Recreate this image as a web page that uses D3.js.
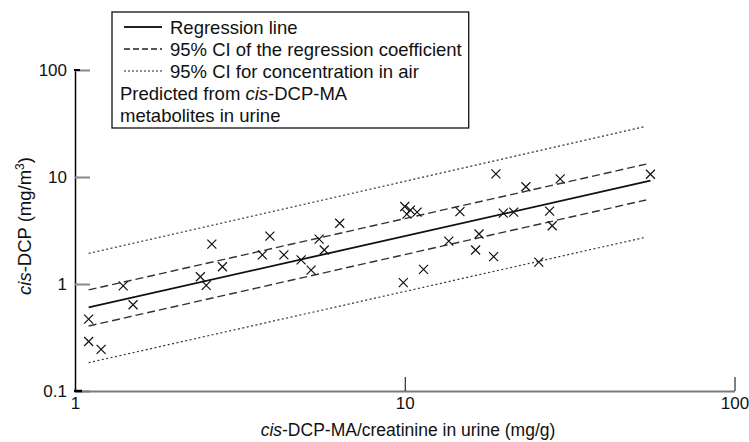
<!DOCTYPE html>
<html>
<head>
<meta charset="utf-8">
<script src="https://cdn.jsdelivr.net/npm/d3@7"></script>
<style>
  body { margin: 0; background: #fff; }
  svg { font-family: "Liberation Sans", Arial, sans-serif; }
</style>
</head>
<body>
<div id="chart"></div>
<script>
// measured points (urine metabolite mg/g vs air mg/m3)
var urine = [1.1, 1.1, 1.2, 1.4, 1.5, 2.4, 2.5, 2.6, 2.8, 3.7, 3.9, 4.3, 4.85, 5.2, 5.5, 5.7, 6.35,
  9.9, 10.0, 10.15, 10.4, 10.9, 11.4, 13.6, 14.7, 16.4, 16.8, 18.6, 18.9, 19.9, 21.4, 23.3,
  25.5, 27.5, 28.0, 29.6, 55.6];
var air = [0.47, 0.29, 0.245, 0.96, 0.64, 1.17, 0.97, 2.36, 1.45, 1.87, 2.8, 1.87, 1.68, 1.35, 2.63, 2.08, 3.7,
  1.03, 5.3, 4.5, 4.9, 4.7, 1.37, 2.52, 4.75, 2.08, 2.93, 1.8, 10.7, 4.6, 4.7, 8.1,
  1.6, 4.8, 3.5, 9.6, 10.6];

// line end points
var regX = [1.1, 55.6], regY = [0.605, 9.23];
var coefX = [1.1, 54], coefUpY = [0.88, 13.2], coefLoY = [0.405, 6.1];
var predX = [1.1, 53], predUpY = [1.93, 29.4], predLoY = [0.184, 2.71];

var yTicks = [0.1, 1, 10, 100];
var xTicks = [1, 10, 100];

var width = 749, height = 442;

var svg = d3.select("#chart").append("svg")
  .attr("width", width)
  .attr("height", height);

var x = d3.scaleLog().domain([1, 100]).range([75, 734.5]);
var y = d3.scaleLog().domain([0.1, 100]).range([391, 70]);

// axes
var yAxis = svg.append("g")
  .attr("transform", "translate(75,0)")
  .call(d3.axisLeft(y).tickValues(yTicks).tickSizeInner(-15).tickSizeOuter(0)
    .tickPadding(8).tickFormat(function (d) { return d; }));
yAxis.select(".domain").attr("stroke", "#000").attr("stroke-width", 1.5);
yAxis.selectAll(".tick line").attr("stroke", "#888").attr("stroke-width", 2);
yAxis.selectAll(".tick text").attr("font-size", 17).attr("fill", "#111")
  .style("font-family", "Liberation Sans, Arial, sans-serif");

var xAxis = svg.append("g")
  .attr("transform", "translate(0,391)")
  .call(d3.axisBottom(x).tickValues(xTicks).tickSizeInner(-14).tickSizeOuter(0)
    .tickPadding(6).tickFormat(function (d) { return d; }));
xAxis.select(".domain").attr("stroke", "#7a7a7a").attr("stroke-width", 2.2);
xAxis.selectAll(".tick line").attr("stroke", "#000").attr("stroke-width", 1);
xAxis.selectAll(".tick text").attr("font-size", 17).attr("fill", "#111")
  .style("font-family", "Liberation Sans, Arial, sans-serif");

// corner bits on the y axis
svg.append("line").attr("x1", 74).attr("x2", 82).attr("y1", y(0.1)).attr("y2", y(0.1))
  .attr("stroke", "#000").attr("stroke-width", 2.5);
svg.append("line").attr("x1", 74).attr("x2", 80).attr("y1", y(100)).attr("y2", y(100))
  .attr("stroke", "#000").attr("stroke-width", 2);

// lines
var line = d3.line()
  .x(function (d) { return x(d[0]); })
  .y(function (d) { return y(d[1]); });

function drawLine(xs, ys, dash, w, col) {
  svg.append("path")
    .datum(d3.zip(xs, ys))
    .attr("d", line)
    .attr("fill", "none")
    .attr("stroke", col)
    .attr("stroke-width", w)
    .attr("stroke-dasharray", dash);
}

drawLine(predX, predUpY, "2,2.5", 1.2, "#333");
drawLine(predX, predLoY, "2,2.5", 1.2, "#333");
drawLine(coefX, coefUpY, "8,4", 1.4, "#333");
drawLine(coefX, coefLoY, "8,4", 1.4, "#333");
drawLine(regX, regY, null, 1.8, "#111");

// points as crosses
var s = 4.5;
svg.selectAll(".pt")
  .data(d3.zip(urine, air))
  .enter()
  .append("path")
  .attr("class", "pt")
  .attr("d", function (d) {
    var cx = x(d[0]), cy = y(d[1]);
    return "M" + (cx - s) + "," + (cy - s) + "L" + (cx + s) + "," + (cy + s) +
      "M" + (cx - s) + "," + (cy + s) + "L" + (cx + s) + "," + (cy - s);
  })
  .attr("stroke", "#111")
  .attr("stroke-width", 1.2)
  .attr("fill", "none");

// axis titles
var xt = svg.append("text")
  .attr("x", 408).attr("y", 436)
  .attr("text-anchor", "middle")
  .attr("font-size", 17.5).attr("fill", "#111");
xt.append("tspan").attr("font-style", "italic").text("cis");
xt.append("tspan").text("-DCP-MA/creatinine in urine (mg/g)");

var yt = svg.append("text")
  .attr("transform", "translate(31,226) rotate(-90)")
  .attr("text-anchor", "middle")
  .attr("font-size", 18.5).attr("fill", "#111");
yt.append("tspan").attr("font-style", "italic").text("cis");
yt.append("tspan").text("-DCP (mg/m");
yt.append("tspan").attr("font-size", 12).attr("dy", -7).text("3");
yt.append("tspan").attr("dy", 7).text(")");

// legend
var fs = 18.5, rowH = 22, legTop = 27;
var legend = svg.append("g");
var box = legend.append("rect")
  .attr("x", 112).attr("y", 12).attr("height", 116)
  .attr("fill", "#fff").attr("stroke", "#111").attr("stroke-width", 1.3);

var legendRows = [
  { label: "Regression line", dash: null, w: 1.8 },
  { label: "95% CI of the regression coefficient", dash: "6,3", w: 1.3 },
  { label: "95% CI for concentration in air", dash: "2,2", w: 1.2 }
];
var maxRight = 0;
legendRows.forEach(function (r, i) {
  var ly = legTop + i * rowH;
  legend.append("line")
    .attr("x1", 124).attr("x2", 162).attr("y1", ly).attr("y2", ly)
    .attr("stroke", "#222").attr("stroke-width", r.w)
    .attr("stroke-dasharray", r.dash);
  var t = legend.append("text")
    .attr("x", 170).attr("y", ly + 6.5)
    .attr("font-size", fs).attr("fill", "#111")
    .text(r.label);
  maxRight = Math.max(maxRight, 170 + t.node().getComputedTextLength());
});
var p1 = legend.append("text").attr("x", 120).attr("y", legTop + 3 * rowH + 6.5)
  .attr("font-size", fs).attr("fill", "#111");
p1.append("tspan").text("Predicted from ");
p1.append("tspan").attr("font-style", "italic").text("cis");
p1.append("tspan").text("-DCP-MA");
legend.append("text").attr("x", 120).attr("y", legTop + 4 * rowH + 6.5)
  .attr("font-size", fs).attr("fill", "#111")
  .text("metabolites in urine");
box.attr("width", maxRight + 7 - 112);
</script>
</body>
</html>
